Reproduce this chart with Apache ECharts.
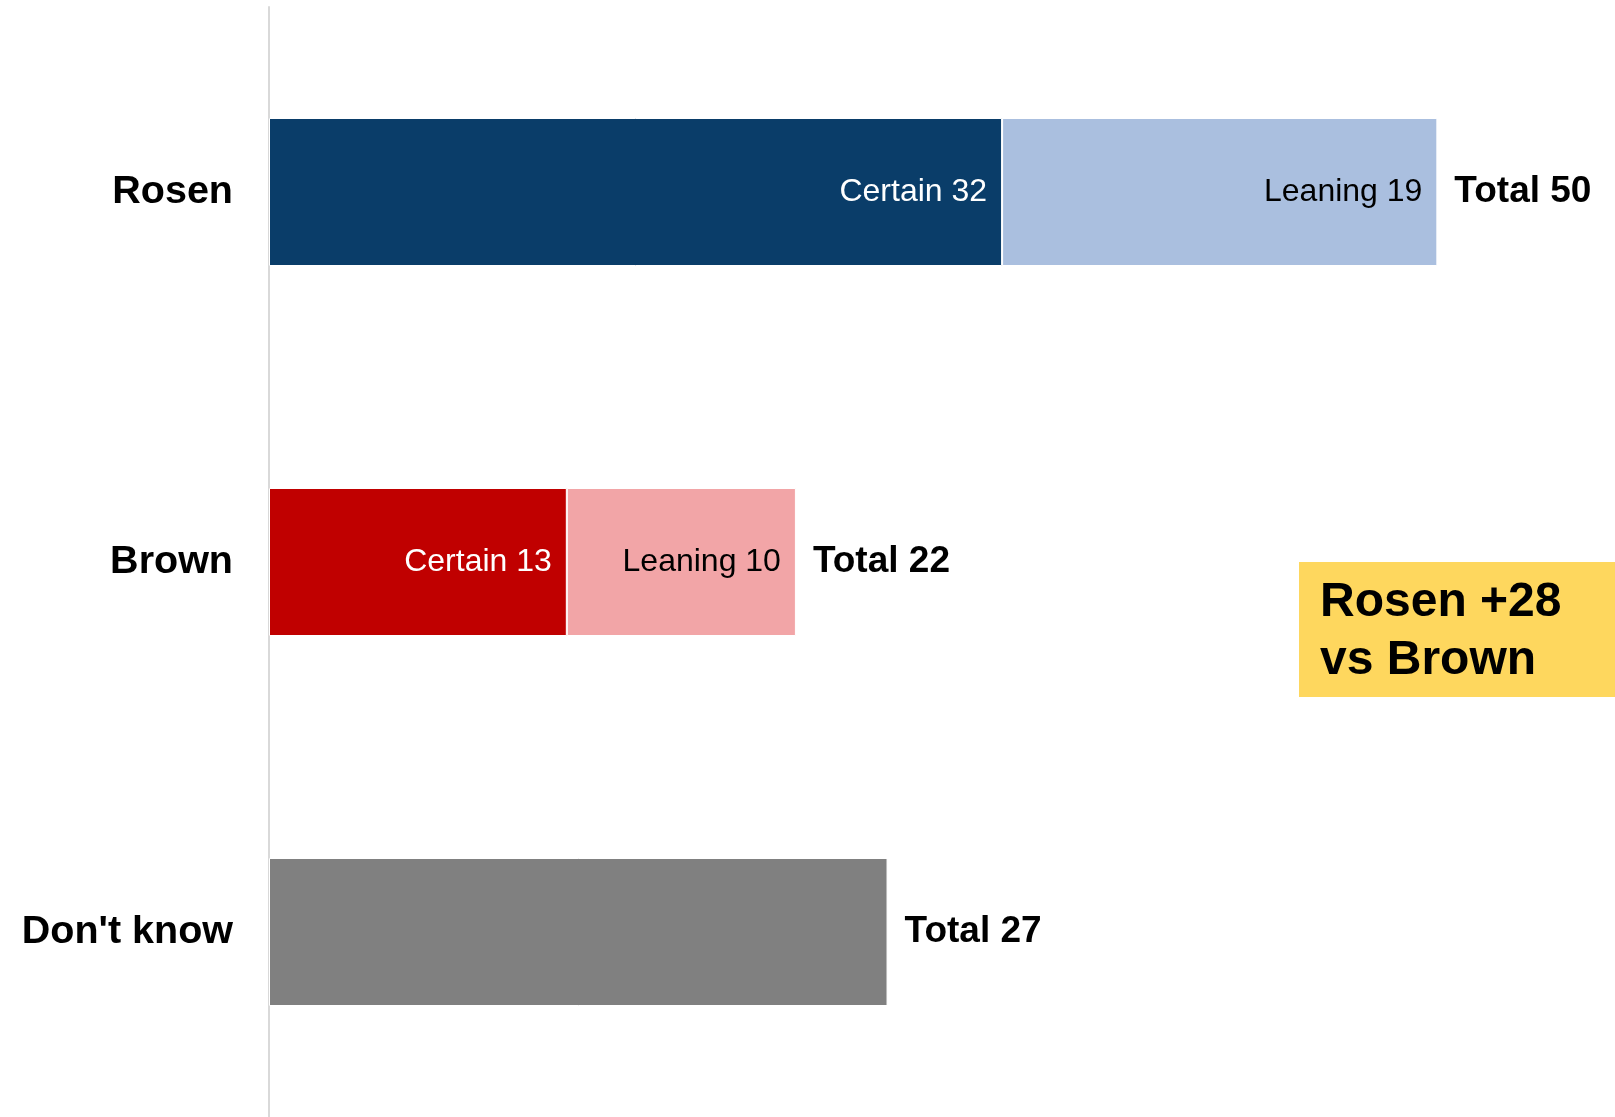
<!DOCTYPE html>
<html>
<head>
<meta charset="utf-8">
<script src="https://cdn.jsdelivr.net/npm/echarts@6/dist/echarts.min.js"></script>
<style>
    html, body {margin: 0; padding: 0; background: #fff;}
    #chart {width: 1615px; height: 1117px;}
</style>
</head>
<body>
<div id="chart"></div>
<script>
// data
var categories = ['Rosen', 'Brown', "Don't know"];
var certain = [32, 13, '-'];
var leaning = [19, 10, '-'];
var dontKnow = ['-', '-', 27];
var totals = [50, 22, 27];
var certainColors = ['#0A3D69', '#C00000'];
var leaningColors = ['#AABFDF', '#F2A5A7'];

var font = 'Liberation Sans, Arial, sans-serif';

function colored(values, colors) {
    return values.map(function (v, i) {
        if (v === '-') return v;
        return {value: v, itemStyle: {color: colors[i]}};
    });
}

// end of each stack, used to park the "Total" label
var stackEnd = categories.map(function (c, i) {
    var s = 0;
    [certain, leaning, dontKnow].forEach(function (arr) {
        if (arr[i] !== '-') s += arr[i];
    });
    return s;
});

var chart = echarts.init(document.getElementById('chart'));
var option = {
    animation: false,
    grid: {left: 269, width: 1260, top: 7, height: 1119},
    xAxis: {
        type: 'value',
        min: 0,
        max: 55,
        show: false
    },
    yAxis: {
        type: 'category',
        inverse: true,
        data: categories,
        axisLine: {show: true, lineStyle: {color: '#D9D9D9', width: 2}},
        axisTick: {show: false},
        axisLabel: {
            fontFamily: font,
            fontSize: 39.5,
            fontWeight: 'bold',
            color: '#000',
            margin: 36
        }
    },
    series: [{
        name: 'Certain',
        type: 'bar',
        stack: 'v',
        barWidth: 148,
        data: colored(certain, certainColors),
        itemStyle: {borderColor: '#fff', borderWidth: 1},
        label: {
            show: true,
            position: 'insideRight',
            distance: 15,
            color: '#fff',
            fontFamily: font,
            fontSize: 32,
            formatter: function (p) { return 'Certain ' + p.value; }
        }
    }, {
        name: 'Leaning',
        type: 'bar',
        stack: 'v',
        data: colored(leaning, leaningColors),
        itemStyle: {borderColor: '#fff', borderWidth: 1},
        label: {
            show: true,
            position: 'insideRight',
            distance: 15,
            color: '#000',
            fontFamily: font,
            fontSize: 32,
            formatter: function (p) { return 'Leaning ' + p.value; }
        }
    }, {
        name: "Don't know",
        type: 'bar',
        stack: 'v',
        data: dontKnow,
        itemStyle: {color: '#808080', borderColor: '#fff', borderWidth: 1}
    }, {
        name: 'Total',
        type: 'bar',
        barGap: '-100%',
        barWidth: 148,
        data: stackEnd,
        itemStyle: {color: 'rgba(0,0,0,0)'},
        z: 1,
        label: {
            show: true,
            position: 'right',
            distance: 17,
            color: '#000',
            fontFamily: font,
            fontSize: 37,
            fontWeight: 'bold',
            formatter: function (p) { return 'Total ' + totals[p.dataIndex]; }
        }
    }],
    graphic: [{
        type: 'rect',
        left: 1299,
        top: 562,
        shape: {width: 316, height: 135},
        style: {fill: '#FED75E'}
    }, {
        type: 'text',
        left: 1320,
        top: 574,
        style: {
            text: 'Rosen +28\nvs Brown',
            fontFamily: font,
            fontSize: 48,
            fontWeight: 'bold',
            lineHeight: 58,
            fill: '#000'
        }
    }]
};
chart.setOption(option);
</script>
</body>
</html>
